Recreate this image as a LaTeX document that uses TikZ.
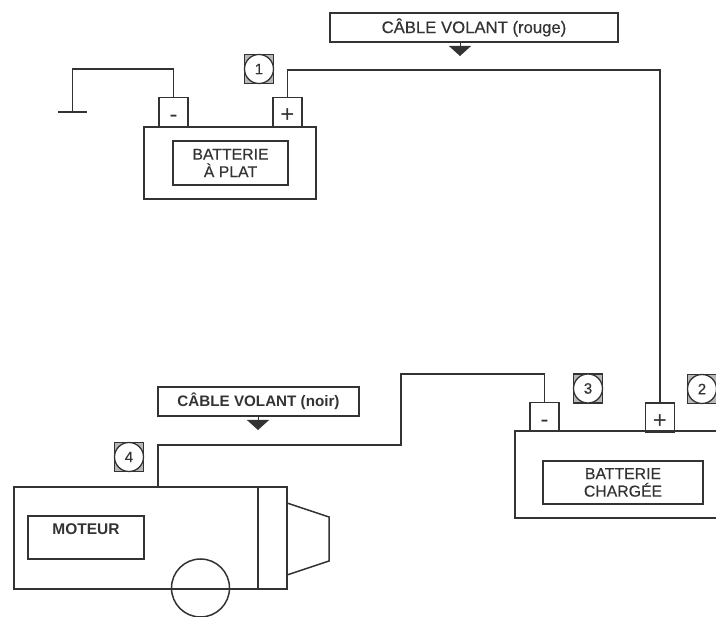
\documentclass[tikz,border=0pt]{standalone}
\usepackage{fontspec}
\setmainfont{Liberation Sans}
\newfontfamily\midfont[FakeBold=0.4]{Liberation Sans}
\usetikzlibrary{arrows.meta}
\definecolor{inkdark}{HTML}{333333}
\def\termsign#1{\raisebox{-11pt}[0pt][0pt]{#1}}
\begin{document}
\begin{tikzpicture}[
  x=1pt, y=-1pt,
  wire/.style    ={line width=1.5pt, draw=inkdark},
  casebox/.style ={rectangle, draw=inkdark, line width=1.7pt, inner sep=0pt},
  termbox/.style ={casebox, minimum width=29pt, minimum height=29pt, font=\fontsize{24}{24}\selectfont, text=inkdark},
  namebox/.style ={casebox, align=center, text=inkdark, font=\midfont\fontsize{15.8}{17.5}\selectfont},
  cabbox/.style  ={casebox, text=inkdark},
  badgesq/.style ={rectangle, draw=inkdark, fill=inkdark!35, line width=1.2pt, minimum size=29pt, inner sep=0pt},
  badgecirc/.style={circle, draw=inkdark, fill=white, line width=1.3pt, minimum size=29pt, inner sep=0pt, text=inkdark, font=\midfont\fontsize{15}{15}\selectfont},
  cabarrow/.style={line width=1pt, draw=inkdark, -{Triangle[width=22pt,length=10pt,fill=inkdark]}},
]
\useasboundingbox (0,0) rectangle (716,617);
\clip (0,0) rectangle (716,617);
% dead battery
\node[casebox, minimum width=172pt, minimum height=72pt] (flatcase) at (230,163) {};
\node[namebox, minimum width=115pt, minimum height=44pt] (flatname) at (230.5,163) {BATTERIE\\À PLAT};
\node[termbox] (flatneg) at (173.5,112) {\termsign{-}};
\node[termbox] (flatpos) at (287.5,112) {\termsign{+}};
% charged battery
\node[casebox, minimum width=204pt, minimum height=87pt] (fullcase) at (617,474.5) {};
\node[namebox, minimum width=160pt, minimum height=43pt] (fullname) at (623,482.5) {BATTERIE\\CHARGÉE};
\node[termbox] (fullneg) at (544.5,417) {\termsign{-}};
\node[termbox] (fullpos) at (660,417.5) {\termsign{+}};
% engine
\node[casebox, minimum width=273pt, minimum height=102pt] (engine) at (150.5,538) {};
\draw[wire] (258,487) -- (258,589);
\node[casebox, minimum width=116pt, minimum height=43pt] (enginebox) at (86,537.5) {};
\node[text=inkdark, font=\bfseries\fontsize{15.5}{15.5}\selectfont] (enginetext) at (86,529) {MOTEUR};
\node[circle, draw=inkdark, line width=1.5pt, minimum size=58pt, inner sep=0pt] (wheel) at (200.5,588) {};
\draw[wire] (287,503) -- (329,517) -- (329,561) -- (287,575);
% numbered marks
\foreach \n/\x/\y in {1/259/69, 2/702/389, 3/588/388.5, 4/129/457} {
  \node[badgesq] (sq\n) at (\x,\y) {};
  \node[badgecirc] (badge\n) at (\x,\y) {\n};
}
% cable captions
\node[cabbox, minimum width=288pt, minimum height=29pt, font=\midfont\fontsize{16.7}{16.7}\selectfont] (redcap) at (474,27.5) {CÂBLE VOLANT (rouge)};
\node[cabbox, minimum width=201pt, minimum height=29pt, font=\bfseries\fontsize{15.2}{15.2}\selectfont] (blackcap) at (258.5,401.5) {CÂBLE VOLANT (noir)};
\coordinate (redtip) at (460,56);
\coordinate (blacktip) at (258,430);
\draw[cabarrow] (redtip |- redcap.south) -- (redtip);
\draw[cabarrow] (blacktip |- blackcap.south) -- (blacktip);
% wires
\coordinate (groundL) at (58,112);
\coordinate (groundR) at (87,112);
\coordinate (groundM) at (72.5,112);
\draw[wire] (groundL) -- (groundR);
\draw[wire] (groundM) |- (173.5,69) -- (flatneg.north);
\draw[wire] (flatpos.north) |- (660,70) -- (fullpos.north);
\draw[wire] (fullneg.north) |- (401,374) |- (158,445) -- (158,487);
\end{tikzpicture}
\end{document}
